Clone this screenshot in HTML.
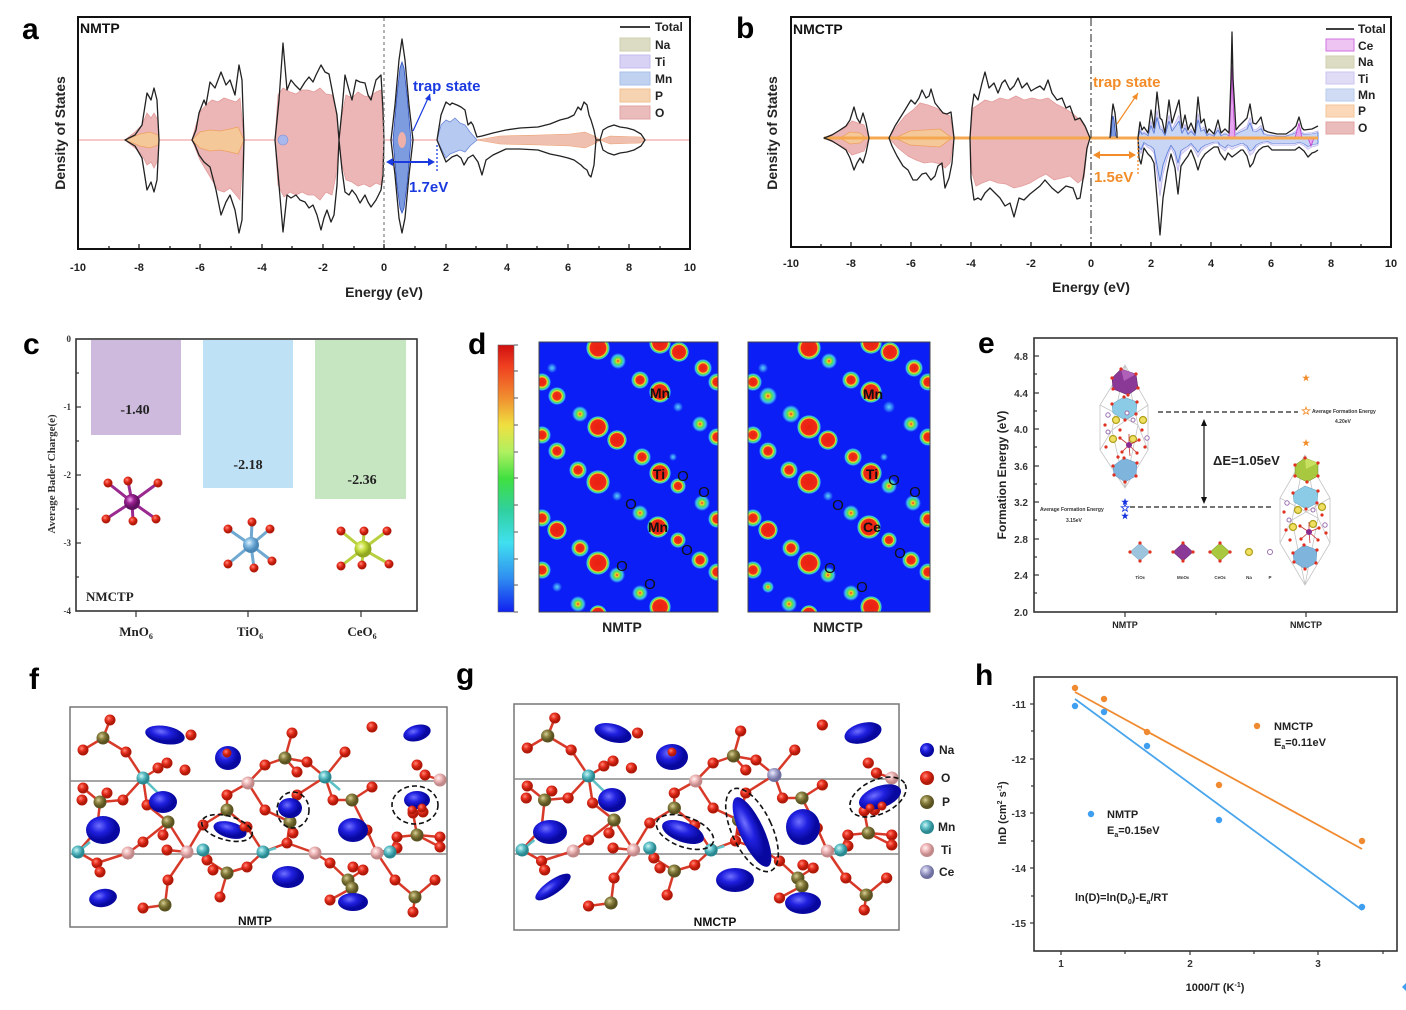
<!DOCTYPE html>
<html><head><meta charset="utf-8"><style>
html,body{margin:0;padding:0;background:#fff;}
svg{display:block;}
text{font-family:"Liberation Sans",Arial,sans-serif;}
.b{font-weight:bold;}
.s,.s text,text.s{font-family:"Liberation Serif","Times New Roman",serif;font-weight:bold;}
</style></head><body>
<svg width="1406" height="1010" viewBox="0 0 1406 1010" xmlns="http://www.w3.org/2000/svg">
<defs>
<radialGradient id="big"><stop offset="0" stop-color="#e82010"/><stop offset="0.66" stop-color="#f02818"/><stop offset="0.75" stop-color="#f0e030"/><stop offset="0.83" stop-color="#50e050"/><stop offset="0.92" stop-color="#40c0f0"/><stop offset="1" stop-color="#0a1ef5"/></radialGradient>
<radialGradient id="med"><stop offset="0" stop-color="#e82010"/><stop offset="0.45" stop-color="#f03018"/><stop offset="0.58" stop-color="#f0e030"/><stop offset="0.7" stop-color="#50e050"/><stop offset="0.85" stop-color="#40c0f0"/><stop offset="1" stop-color="#0a1ef5"/></radialGradient>
<radialGradient id="sm"><stop offset="0" stop-color="#f03020"/><stop offset="0.22" stop-color="#f0d030"/><stop offset="0.42" stop-color="#50e050"/><stop offset="0.7" stop-color="#40c0f0"/><stop offset="1" stop-color="#0a1ef5"/></radialGradient>
<radialGradient id="fa"><stop offset="0" stop-color="#60d0f8"/><stop offset="0.5" stop-color="#3080f8"/><stop offset="1" stop-color="#0a1ef5"/></radialGradient>
<linearGradient id="jet" x1="0" y1="0" x2="0" y2="1"><stop offset="0" stop-color="#d01010"/><stop offset="0.08" stop-color="#f04020"/><stop offset="0.2" stop-color="#f09030"/><stop offset="0.3" stop-color="#f0e040"/><stop offset="0.4" stop-color="#b0f060"/><stop offset="0.5" stop-color="#40e040"/><stop offset="0.62" stop-color="#30d0a0"/><stop offset="0.74" stop-color="#40e0f0"/><stop offset="0.87" stop-color="#3090f0"/><stop offset="1" stop-color="#1020f0"/></linearGradient>
<radialGradient id="gO" cx="0.38" cy="0.35"><stop offset="0" stop-color="#ff8a78"/><stop offset="0.5" stop-color="#e83020"/><stop offset="1" stop-color="#b01808"/></radialGradient>
<radialGradient id="gP" cx="0.38" cy="0.35"><stop offset="0" stop-color="#d8d098"/><stop offset="0.5" stop-color="#8a8040"/><stop offset="1" stop-color="#5a5220"/></radialGradient>
<radialGradient id="gMn" cx="0.38" cy="0.35"><stop offset="0" stop-color="#d0f6f6"/><stop offset="0.5" stop-color="#60c0c8"/><stop offset="1" stop-color="#2a8890"/></radialGradient>
<radialGradient id="gTi" cx="0.38" cy="0.35"><stop offset="0" stop-color="#fff4f4"/><stop offset="0.5" stop-color="#f0b8b8"/><stop offset="1" stop-color="#c08888"/></radialGradient>
<radialGradient id="gCe" cx="0.38" cy="0.35"><stop offset="0" stop-color="#eeeeff"/><stop offset="0.5" stop-color="#a8a8d0"/><stop offset="1" stop-color="#7070a0"/></radialGradient>
<radialGradient id="gNa" cx="0.38" cy="0.35"><stop offset="0" stop-color="#7070ff"/><stop offset="0.5" stop-color="#2020e0"/><stop offset="1" stop-color="#0808a0"/></radialGradient>
<radialGradient id="gMnc" cx="0.38" cy="0.35"><stop offset="0" stop-color="#f0a0f0"/><stop offset="0.5" stop-color="#9a2090"/><stop offset="1" stop-color="#601060"/></radialGradient>
<radialGradient id="gTic" cx="0.38" cy="0.35"><stop offset="0" stop-color="#e0f4ff"/><stop offset="0.5" stop-color="#80b8e0"/><stop offset="1" stop-color="#4a88b8"/></radialGradient>
<radialGradient id="gCec" cx="0.38" cy="0.35"><stop offset="0" stop-color="#fafad0"/><stop offset="0.5" stop-color="#c8e040"/><stop offset="1" stop-color="#90a820"/></radialGradient>
<clipPath id="cl1"><rect x="539" y="342" width="179" height="270"/></clipPath>
<clipPath id="cl2"><rect x="748" y="342" width="182" height="270"/></clipPath>
</defs>

<!-- ============ PANEL A ============ -->
<text x="22" y="39" class="b" font-size="30">a</text>
<line x1="78" y1="140" x2="690" y2="140" stroke="#f3b5b5" stroke-width="1.5"/>
<g transform="translate(0,140)">
 <path d="M125,0 L135,-8 L142,-15 L147,-27 L151,-22 L154,-27 L158,-20 L159,0 L158,20 L154,28 L151,22 L147,25 L142,15 L135,8 Z" fill="#ecb6b6" stroke="#e49a9a" stroke-width="0.8"/>
 <path d="M192,0 L196,-15 L200,-28 L206,-35 L212,-40 L218,-38 L224,-42 L230,-40 L236,-38 L240,-42 L244,0 L240,60 L236,55 L230,48 L224,52 L218,50 L212,40 L206,30 L200,20 L196,10 Z" fill="#ecb6b6" stroke="#e49a9a" stroke-width="0.8"/>
 <path d="M275,0 L278,-45 L283,-52 L290,-48 L296,-46 L302,-50 L308,-50 L314,-48 L320,-52 L326,-46 L332,-45 L336,-30 L339,0 L342,-25 L346,-45 L352,-42 L358,-48 L364,-44 L370,-43 L376,-48 L381,-50 L384,0 L381,45 L376,43 L370,47 L364,44 L358,46 L352,42 L346,40 L342,25 L339,0 L336,35 L332,55 L326,52 L320,60 L314,55 L308,55 L302,52 L296,55 L290,52 L284,57 L278,45 Z" fill="#ecb6b6" stroke="#e49a9a" stroke-width="0.8"/>
 <path d="M125,0 L140,-6 L150,-8 L158,-5 L159,0 L158,5 L150,8 L140,6 Z" fill="#f5c89a" stroke="#eea060" stroke-width="0.8"/>
 <path d="M192,0 L200,-8 L210,-10 L220,-9 L230,-11 L238,-13 L244,0 L238,14 L230,12 L220,10 L210,11 L200,8 Z" fill="#f5c89a" stroke="#eea060" stroke-width="0.8"/>
 <ellipse cx="283" cy="0" rx="5" ry="5" fill="#a8b8ec" stroke="#7a90d8" stroke-width="0.6"/>
 <path d="M393,0 L397,-45 L400,-72 L402,-78 L404,-72 L407,-45 L411,0 L407,45 L404,68 L402,73 L400,68 L397,45 Z" fill="#7d9ce0" stroke="#3050c0" stroke-width="0.8"/>
 <ellipse cx="402" cy="0" rx="4" ry="8" fill="#eeb0a8"/>
 <path d="M437,0 L441,-15 L446,-20 L450,-18 L455,-22 L460,-17 L465,-15 L470,-8 L477,0 L470,6 L465,12 L460,10 L455,12 L450,14 L446,18 L441,8 Z" fill="#b6c9f0" stroke="#6a88d8" stroke-width="0.8"/>
 <path d="M477,0 L500,-4 L540,-5 L570,-6 L585,-8 L596,-3 L600,0 L610,-4 L640,-3 L645,0 L640,3 L610,4 L600,0 L596,3 L585,8 L570,6 L540,5 L500,4 Z" fill="#efc0b0" stroke="#eea070" stroke-width="0.6"/>
 <g fill="none" stroke="#222" stroke-width="1.3" stroke-linejoin="round">
 <path d="M125,0 L135,-5 L142,-15 L147,-47 L151,-40 L154,-52 L157,-40 L159,0 L157,40 L154,52 L151,42 L147,50 L142,18 L135,6 Z"/>
 <path d="M192,0 L196,-10 L199,-27 L204,-40 L206,-35 L210,-58 L215,-52 L218,-60 L221,-68 L226,-55 L230,-60 L235,-45 L239,-75 L242,-60 L244,0 L242,80 L239,93 L235,70 L230,55 L226,62 L221,75 L216,50 L210,27 L204,22 L199,15 L195,5 Z"/>
 <path d="M275,0 L279,-40 L283,-97 L287,-50 L291,-60 L295,-55 L300,-50 L305,-58 L309,-63 L313,-58 L316,-65 L321,-75 L325,-68 L329,-66 L334,-40 L337,-25 L339,0 L342,-30 L345,-65 L349,-50 L352,-40 L356,-60 L360,-58 L365,-57 L368,-45 L371,-40 L376,-60 L381,-65 L383,-30 L384,0 L383,35 L381,50 L376,60 L371,67 L368,62 L365,55 L360,63 L356,55 L352,50 L349,55 L345,52 L342,30 L339,0 L337,45 L334,75 L331,82 L327,70 L324,78 L321,90 L317,75 L313,65 L309,68 L305,62 L300,60 L296,55 L291,58 L287,55 L283,92 L279,45 Z"/>
 <path d="M391,0 L395,-35 L399,-80 L402,-101 L405,-80 L409,-35 L413,0 L409,35 L405,78 L402,93 L399,78 L395,35 Z"/>
 <path d="M437,0 L441,-25 L446,-38 L450,-35 L452,-37 L457,-35 L461,-33 L465,-30 L468,-15 L471,-18 L473,-15 L477,-3 L482,-4 L493,-7 L506,-10 L520,-12 L538,-13 L550,-16 L560,-20 L568,-22 L574,-25 L578,-33 L581,-30 L584,-38 L587,-35 L589,-25 L591,-20 L594,-10 L596,0 L600,0 L603,-10 L608,-13 L614,-15 L620,-13 L627,-12 L634,-10 L641,-6 L645,0 L641,6 L634,10 L627,12 L620,13 L614,15 L608,13 L603,10 L600,0 L596,0 L594,25 L591,37 L589,35 L587,30 L584,28 L581,25 L574,20 L568,18 L560,16 L550,14 L538,10 L520,9 L506,9 L493,15 L486,20 L482,35 L478,22 L473,15 L468,18 L464,25 L461,18 L457,15 L452,17 L446,22 L441,10 Z"/>
 </g>
</g>
<line x1="384" y1="18" x2="384" y2="249" stroke="#888" stroke-width="1.3" stroke-dasharray="3,3"/>
<line x1="437" y1="145" x2="437" y2="172" stroke="#2040e0" stroke-width="1.3" stroke-dasharray="2,2"/>
<line x1="389" y1="162" x2="432" y2="162" stroke="#1a3ae0" stroke-width="2"/>
<path d="M386,162 L393,158 L393,166 Z M435,162 L428,158 L428,166 Z" fill="#1a3ae0"/>
<text x="409" y="192" class="b" font-size="15" fill="#1a3ae0">1.7eV</text>
<text x="413" y="91" class="b" font-size="15" fill="#1a3ae0">trap state</text>
<line x1="430" y1="94" x2="413" y2="131" stroke="#1a3ae0" stroke-width="1.2"/>
<path d="M430,94 L425,99 L431,101 Z" fill="#1a3ae0"/>
<rect x="78" y="17" width="612" height="232" fill="none" stroke="#111" stroke-width="2"/>
<g stroke="#111" stroke-width="1.2">
<line x1="78" y1="249" x2="78" y2="244"/><line x1="109" y1="249" x2="109" y2="246"/><line x1="139" y1="249" x2="139" y2="244"/><line x1="170" y1="249" x2="170" y2="246"/><line x1="200" y1="249" x2="200" y2="244"/><line x1="231" y1="249" x2="231" y2="246"/><line x1="262" y1="249" x2="262" y2="244"/><line x1="292" y1="249" x2="292" y2="246"/><line x1="323" y1="249" x2="323" y2="244"/><line x1="354" y1="249" x2="354" y2="246"/><line x1="384" y1="249" x2="384" y2="244"/><line x1="415" y1="249" x2="415" y2="246"/><line x1="446" y1="249" x2="446" y2="244"/><line x1="476" y1="249" x2="476" y2="246"/><line x1="507" y1="249" x2="507" y2="244"/><line x1="537" y1="249" x2="537" y2="246"/><line x1="568" y1="249" x2="568" y2="244"/><line x1="599" y1="249" x2="599" y2="246"/><line x1="629" y1="249" x2="629" y2="244"/><line x1="660" y1="249" x2="660" y2="246"/>
</g>
<g class="b" font-size="11" text-anchor="middle" fill="#222">
<text x="78" y="271">-10</text><text x="139" y="271">-8</text><text x="200" y="271">-6</text><text x="262" y="271">-4</text><text x="323" y="271">-2</text><text x="384" y="271">0</text><text x="446" y="271">2</text><text x="507" y="271">4</text><text x="568" y="271">6</text><text x="629" y="271">8</text><text x="690" y="271">10</text>
</g>
<text x="384" y="297" class="b" font-size="14" text-anchor="middle" fill="#222">Energy (eV)</text>
<text transform="translate(65,133) rotate(-90)" class="b" font-size="14" text-anchor="middle" fill="#222">Density of States</text>
<text x="80" y="33" class="b" font-size="14" fill="#111">NMTP</text>
<g class="b" font-size="12" fill="#222">
<line x1="620" y1="27" x2="650" y2="27" stroke="#222" stroke-width="1.8"/><text x="655" y="31">Total</text>
<rect x="620" y="38" width="30" height="13" fill="#dcdcc4" stroke="#cfcfb0"/><text x="655" y="49">Na</text>
<rect x="620" y="55" width="30" height="13" fill="#d8d2f4" stroke="#c4bcee"/><text x="655" y="66">Ti</text>
<rect x="620" y="72" width="30" height="13" fill="#c0d2f0" stroke="#a8c0ea"/><text x="655" y="83">Mn</text>
<rect x="620" y="89" width="30" height="13" fill="#f6d4b2" stroke="#f0c090"/><text x="655" y="100">P</text>
<rect x="620" y="106" width="30" height="13" fill="#ebbcbc" stroke="#e0a4a4"/><text x="655" y="117">O</text>
</g>

<!-- ============ PANEL B ============ -->
<text x="736" y="38" class="b" font-size="30">b</text>
<g transform="translate(0,138)">
 <path d="M824,0 L835,-5 L845,-10 L852,-17 L858,-15 L864,-13 L869,0 L864,13 L858,15 L852,17 L845,10 L835,5 Z" fill="#ecb6b6" stroke="#e49a9a" stroke-width="0.8"/>
 <path d="M889,0 L897,-12 L905,-22 L913,-28 L920,-35 L928,-33 L936,-30 L944,-25 L950,-22 L954,0 L950,25 L945,30 L940,26 L932,24 L924,25 L916,22 L908,18 L898,10 Z" fill="#ecb6b6" stroke="#e49a9a" stroke-width="0.8"/>
 <path d="M970,0 L973,-30 L978,-33 L985,-38 L992,-36 L1000,-40 L1008,-38 L1016,-42 L1024,-38 L1032,-40 L1040,-38 L1048,-40 L1056,-34 L1064,-30 L1072,-25 L1080,-18 L1086,-10 L1090,0 L1087,12 L1084,40 L1078,45 L1070,38 L1062,40 L1054,42 L1046,36 L1038,40 L1030,45 L1022,48 L1014,50 L1006,46 L998,45 L990,42 L982,45 L976,48 L972,35 Z" fill="#ecb6b6" stroke="#e49a9a" stroke-width="0.8"/>
 <path d="M840,0 L850,-6 L860,-5 L866,0 L860,5 L850,6 Z M895,0 L910,-7 L925,-8 L940,-9 L952,0 L940,9 L925,8 L910,7 Z" fill="#f5c89a" stroke="#eea060" stroke-width="0.8"/>
 <g transform="scale(1,0.6)"><path d="M1138,0 L1140,-16 L1142,-8 L1144,-11 L1148,-5 L1151,-28 L1154,-10 L1157,-46 L1160,-20 L1162,-18 L1165,-5 L1169,-38 L1172,-15 L1176,-28 L1179,-38 L1182,-10 L1185,-23 L1188,-8 L1191,-15 L1195,-5 L1198,-41 L1201,-15 L1204,-19 L1207,-5 L1209,-9 L1214,-4 L1218,-18 L1221,-5 L1225,-9 L1229,-5 L1231,-20 L1232,-30 L1233,-20 L1236,-8 L1239,-12 L1243,-16 L1247,-20 L1250,-34 L1253,-15 L1256,-14 L1259,-18 L1261,-21 L1264,-8 L1268,-6 L1277,-4 L1286,-4 L1292,-8 L1296,-12 L1299,-21 L1302,-10 L1304,-8 L1312,-9 L1318,-12 L1318,12 L1315,14 L1312,15 L1308,19 L1304,13 L1299,9 L1295,12 L1290,12 L1285,12 L1281,12 L1276,12 L1272,12 L1268,8 L1263,9 L1259,12 L1256,16 L1253,25 L1250,29 L1247,18 L1243,12 L1241,12 L1236,16 L1232,19 L1228,15 L1225,22 L1220,15 L1218,9 L1214,9 L1210,12 L1205,16 L1201,22 L1198,32 L1195,22 L1191,12 L1188,18 L1185,22 L1181,28 L1178,56 L1175,30 L1171,16 L1169,25 L1167,35 L1163,60 L1160,97 L1157,60 L1154,25 L1151,19 L1148,16 L1144,10 L1141,26 L1139,20 L1138,0 Z" fill="#e4e0f8" stroke="#b8b0ec" stroke-width="0.8"/></g>
 <g transform="scale(1,0.45)"><path d="M1138,0 L1140,-16 L1142,-8 L1144,-11 L1148,-5 L1151,-28 L1154,-10 L1157,-46 L1160,-20 L1162,-18 L1165,-5 L1169,-38 L1172,-15 L1176,-28 L1179,-38 L1182,-10 L1185,-23 L1188,-8 L1191,-15 L1195,-5 L1198,-41 L1201,-15 L1204,-19 L1207,-5 L1209,-9 L1214,-4 L1218,-18 L1221,-5 L1225,-9 L1229,-5 L1236,-8 L1239,-12 L1243,-16 L1247,-20 L1250,-34 L1253,-15 L1256,-14 L1259,-18 L1261,-21 L1264,-8 L1268,-6 L1277,-4 L1286,-4 L1292,-8 L1296,-12 L1299,-10 L1302,-10 L1304,-8 L1312,-9 L1318,-12 L1318,12 L1315,14 L1312,15 L1308,19 L1304,13 L1299,9 L1295,12 L1290,12 L1285,12 L1281,12 L1276,12 L1272,12 L1268,8 L1263,9 L1259,12 L1256,16 L1253,25 L1250,29 L1247,18 L1243,12 L1241,12 L1236,16 L1232,19 L1228,15 L1225,22 L1220,15 L1218,9 L1214,9 L1210,12 L1205,16 L1201,22 L1198,32 L1195,22 L1191,12 L1188,18 L1185,22 L1181,28 L1178,56 L1175,30 L1171,16 L1169,25 L1167,35 L1163,60 L1160,97 L1157,60 L1154,25 L1151,19 L1148,16 L1144,10 L1141,26 L1139,20 L1138,0 Z" fill="#c2d2f4" fill-opacity="0.8" stroke="#5d80d8" stroke-width="1"/></g>
 <path d="M1229,0 L1231,-40 L1232,-71 L1233,-40 L1235,0 Z M1295,0 L1299,-15 L1302,0 Z M1308,0 L1311,8 L1314,0 Z" fill="#e6a6f0" stroke="#c040d0" stroke-width="0.8"/>
 <path d="M1111,0 L1112,-18 L1113,-22 L1114,-18 L1116,0 Z" fill="#7d9ce0" stroke="#3050c0" stroke-width="0.8"/>
 <line x1="824" y1="0" x2="1318" y2="0" stroke="#f5a850" stroke-width="3"/>
 <g fill="none" stroke="#222" stroke-width="1.3" stroke-linejoin="round">
 <path d="M824,0 L832,-3 L840,-8 L846,-12 L850,-18 L854,-31 L857,-20 L860,-15 L863,-25 L866,-15 L869,0 L866,15 L863,25 L860,20 L857,25 L854,32 L850,20 L846,12 L840,8 L832,3 Z"/>
 <path d="M889,0 L895,-12 L900,-20 L905,-28 L911,-38 L915,-34 L919,-40 L922,-48 L926,-40 L929,-42 L931,-49 L935,-35 L939,-30 L943,-25 L947,-24 L951,-26 L954,0 L952,25 L949,40 L945,50 L942,25 L938,28 L935,38 L931,42 L926,35 L922,36 L917,42 L913,42 L908,32 L903,28 L897,18 L892,8 Z"/>
 <path d="M970,0 L972,-30 L974,-44 L978,-38 L982,-55 L985,-66 L989,-50 L994,-55 L998,-45 L1002,-55 L1005,-58 L1010,-48 L1014,-52 L1018,-60 L1022,-50 L1027,-55 L1031,-47 L1036,-50 L1040,-52 L1044,-48 L1048,-58 L1052,-45 L1057,-38 L1062,-40 L1066,-30 L1070,-32 L1075,-18 L1080,-20 L1085,-12 L1090,0 L1087,10 L1084,35 L1080,60 L1077,61 L1073,50 L1066,48 L1058,55 L1052,50 L1045,42 L1040,48 L1035,52 L1030,56 L1024,62 L1019,60 L1014,79 L1010,65 L1005,68 L1000,60 L995,55 L990,50 L985,55 L981,62 L978,60 L974,62 L971,40 Z"/>
 <path d="M1110,0 L1112,-25 L1113,-34 L1115,-25 L1117,-5 L1117,0"/>
 <path d="M1138,0 L1140,-16 L1142,-8 L1144,-11 L1148,-5 L1151,-28 L1154,-10 L1157,-46 L1160,-20 L1162,-18 L1165,-5 L1169,-38 L1172,-15 L1176,-28 L1179,-38 L1182,-10 L1185,-23 L1188,-8 L1191,-15 L1195,-5 L1198,-41 L1201,-15 L1204,-19 L1207,-5 L1209,-9 L1214,-4 L1218,-18 L1221,-5 L1225,-9 L1229,-5 L1231,-60 L1232,-106 L1233,-60 L1236,-8 L1239,-12 L1243,-16 L1247,-20 L1250,-34 L1253,-15 L1256,-14 L1259,-18 L1261,-21 L1264,-8 L1268,-6 L1277,-4 L1286,-4 L1292,-8 L1296,-12 L1299,-21 L1302,-10 L1304,-8 L1312,-9 L1318,-12 M1318,12 L1315,14 L1312,15 L1308,19 L1304,13 L1299,9 L1295,12 L1290,12 L1285,12 L1281,12 L1276,12 L1272,12 L1268,8 L1263,9 L1259,12 L1256,16 L1253,25 L1250,29 L1247,18 L1243,12 L1241,12 L1236,16 L1232,19 L1228,15 L1225,22 L1220,15 L1218,9 L1214,9 L1210,12 L1205,16 L1201,22 L1198,32 L1195,22 L1191,12 L1188,18 L1185,22 L1181,28 L1178,56 L1175,30 L1171,16 L1169,25 L1167,35 L1163,60 L1160,97 L1157,60 L1154,25 L1151,19 L1148,16 L1144,10 L1141,26 L1139,20 L1138,0"/>
 </g>
</g>
<line x1="1091" y1="18" x2="1091" y2="247" stroke="#555" stroke-width="1.3" stroke-dasharray="8,3,2,3"/>
<line x1="1138" y1="140" x2="1138" y2="176" stroke="#f28c28" stroke-width="1.3" stroke-dasharray="2,2"/>
<line x1="1096" y1="155" x2="1133" y2="155" stroke="#f28c28" stroke-width="2"/>
<path d="M1093,155 L1100,151 L1100,159 Z M1136,155 L1129,151 L1129,159 Z" fill="#f28c28"/>
<text x="1094" y="182" class="b" font-size="15" fill="#f28c28">1.5eV</text>
<text x="1093" y="87" class="b" font-size="15" fill="#f28c28">trap state</text>
<line x1="1138" y1="93" x2="1117" y2="124" stroke="#f28c28" stroke-width="1.2"/>
<path d="M1138,93 L1132,97 L1137,100 Z" fill="#f28c28"/>
<rect x="791" y="17" width="600" height="230" fill="none" stroke="#111" stroke-width="2"/>
<g stroke="#111" stroke-width="1.2">
<line x1="791" y1="247" x2="791" y2="242"/><line x1="821" y1="247" x2="821" y2="244"/><line x1="851" y1="247" x2="851" y2="242"/><line x1="881" y1="247" x2="881" y2="244"/><line x1="911" y1="247" x2="911" y2="242"/><line x1="941" y1="247" x2="941" y2="244"/><line x1="971" y1="247" x2="971" y2="242"/><line x1="1001" y1="247" x2="1001" y2="244"/><line x1="1031" y1="247" x2="1031" y2="242"/><line x1="1061" y1="247" x2="1061" y2="244"/><line x1="1091" y1="247" x2="1091" y2="242"/><line x1="1121" y1="247" x2="1121" y2="244"/><line x1="1151" y1="247" x2="1151" y2="242"/><line x1="1181" y1="247" x2="1181" y2="244"/><line x1="1211" y1="247" x2="1211" y2="242"/><line x1="1241" y1="247" x2="1241" y2="244"/><line x1="1271" y1="247" x2="1271" y2="242"/><line x1="1301" y1="247" x2="1301" y2="244"/><line x1="1331" y1="247" x2="1331" y2="242"/><line x1="1361" y1="247" x2="1361" y2="244"/>
</g>
<g class="b" font-size="11" text-anchor="middle" fill="#222">
<text x="791" y="267">-10</text><text x="851" y="267">-8</text><text x="911" y="267">-6</text><text x="971" y="267">-4</text><text x="1031" y="267">-2</text><text x="1091" y="267">0</text><text x="1151" y="267">2</text><text x="1211" y="267">4</text><text x="1271" y="267">6</text><text x="1331" y="267">8</text><text x="1391" y="267">10</text>
</g>
<text x="1091" y="292" class="b" font-size="14" text-anchor="middle" fill="#222">Energy (eV)</text>
<text transform="translate(777,133) rotate(-90)" class="b" font-size="14" text-anchor="middle" fill="#222">Density of States</text>
<text x="793" y="34" class="b" font-size="14" fill="#111">NMCTP</text>
<g class="b" font-size="12" fill="#222">
<line x1="1326" y1="29" x2="1354" y2="29" stroke="#222" stroke-width="1.8"/><text x="1358" y="33">Total</text>
<rect x="1326" y="39" width="28" height="12" fill="#eec4f2" stroke="#d070e0"/><text x="1358" y="50">Ce</text>
<rect x="1326" y="56" width="28" height="12" fill="#dcdcc4" stroke="#cfcfb0"/><text x="1358" y="66">Na</text>
<rect x="1326" y="72" width="28" height="12" fill="#e0dcf6" stroke="#ccc6f0"/><text x="1358" y="83">Ti</text>
<rect x="1326" y="89" width="28" height="12" fill="#cfdcf4" stroke="#b8cbee"/><text x="1358" y="99">Mn</text>
<rect x="1326" y="105" width="28" height="12" fill="#fad8b8" stroke="#f4c498"/><text x="1358" y="115">P</text>
<rect x="1326" y="122" width="28" height="12" fill="#ebbcbc" stroke="#e0a4a4"/><text x="1358" y="132">O</text>
</g>

<!-- ============ PANEL C ============ -->
<text x="23" y="354" class="b" font-size="30">c</text>
<rect x="91" y="340" width="90" height="95" fill="#cdbadd"/>
<rect x="203" y="340" width="90" height="148" fill="#bfe1f6"/>
<rect x="315" y="340" width="91" height="159" fill="#c6e6c2"/>
<g class="s" font-size="14" text-anchor="middle" fill="#222">
<text x="135" y="414">-1.40</text><text x="248" y="469">-2.18</text><text x="362" y="484">-2.36</text>
</g>
<rect x="76" y="339" width="341" height="272" fill="none" stroke="#333" stroke-width="1.6"/>
<g stroke="#333" stroke-width="1.2">
<line x1="76" y1="407" x2="81" y2="407"/><line x1="76" y1="475" x2="81" y2="475"/><line x1="76" y1="543" x2="81" y2="543"/>
<line x1="76" y1="373" x2="79" y2="373"/><line x1="76" y1="441" x2="79" y2="441"/><line x1="76" y1="509" x2="79" y2="509"/><line x1="76" y1="577" x2="79" y2="577"/>
<line x1="136" y1="611" x2="136" y2="617"/><line x1="248" y1="611" x2="248" y2="617"/><line x1="361" y1="611" x2="361" y2="617"/>
</g>
<g class="s" font-size="9" text-anchor="end" fill="#333">
<text x="71" y="342">0</text><text x="71" y="410">-1</text><text x="71" y="478">-2</text><text x="71" y="546">-3</text><text x="71" y="614">-4</text>
</g>
<text transform="translate(55,474) rotate(-90)" class="s" font-size="11" text-anchor="middle" fill="#333">Average Bader Charge(e)</text>
<text x="86" y="601" class="s" font-size="13" fill="#222">NMCTP</text>
<g class="s" font-size="13" text-anchor="middle" fill="#222">
<text x="136" y="636">MnO<tspan font-size="8" dy="3">6</tspan></text>
<text x="250" y="636">TiO<tspan font-size="8" dy="3">6</tspan></text>
<text x="362" y="636">CeO<tspan font-size="8" dy="3">6</tspan></text>
</g>
<g stroke-width="3">
<g stroke="#9a2a90"><line x1="132" y1="502" x2="108" y2="483"/><line x1="132" y1="502" x2="128" y2="481"/><line x1="132" y1="502" x2="158" y2="483"/><line x1="132" y1="502" x2="106" y2="519"/><line x1="132" y1="502" x2="133" y2="521"/><line x1="132" y1="502" x2="156" y2="519"/></g>
<g stroke="#6fa8d0"><line x1="251" y1="545" x2="228" y2="529"/><line x1="251" y1="545" x2="252" y2="522"/><line x1="251" y1="545" x2="270" y2="529"/><line x1="251" y1="545" x2="228" y2="564"/><line x1="251" y1="545" x2="254" y2="568"/><line x1="251" y1="545" x2="272" y2="561"/></g>
<g stroke="#b8d040"><line x1="363" y1="549" x2="341" y2="531"/><line x1="363" y1="549" x2="364" y2="531"/><line x1="363" y1="549" x2="387" y2="531"/><line x1="363" y1="549" x2="341" y2="566"/><line x1="363" y1="549" x2="362" y2="565"/><line x1="363" y1="549" x2="389" y2="564"/></g>
</g>
<g fill="url(#gO)">
<circle cx="108" cy="483" r="4.5"/><circle cx="128" cy="481" r="4.5"/><circle cx="158" cy="483" r="4.5"/><circle cx="106" cy="519" r="4.5"/><circle cx="133" cy="521" r="4.5"/><circle cx="156" cy="519" r="4.5"/>
<circle cx="228" cy="529" r="4.5"/><circle cx="252" cy="522" r="4.5"/><circle cx="270" cy="529" r="4.5"/><circle cx="228" cy="564" r="4.5"/><circle cx="254" cy="568" r="4.5"/><circle cx="272" cy="561" r="4.5"/>
<circle cx="341" cy="531" r="4.5"/><circle cx="364" cy="531" r="4.5"/><circle cx="387" cy="531" r="4.5"/><circle cx="341" cy="566" r="4.5"/><circle cx="362" cy="565" r="4.5"/><circle cx="389" cy="564" r="4.5"/>
</g>
<circle cx="132" cy="502" r="8" fill="url(#gMnc)"/>
<circle cx="251" cy="545" r="8" fill="url(#gTic)"/>
<circle cx="363" cy="549" r="8.5" fill="url(#gCec)"/>

<!-- ============ PANEL D ============ -->
<text x="468" y="354" class="b" font-size="30">d</text>
<rect x="498" y="345" width="16" height="267" fill="url(#jet)" stroke="#666" stroke-width="0.6"/>
<g stroke="#555" stroke-width="1">
<line x1="514" y1="371" x2="518" y2="371"/><line x1="514" y1="398" x2="518" y2="398"/><line x1="514" y1="425" x2="518" y2="425"/><line x1="514" y1="452" x2="518" y2="452"/><line x1="514" y1="478" x2="518" y2="478"/><line x1="514" y1="505" x2="518" y2="505"/><line x1="514" y1="532" x2="518" y2="532"/><line x1="514" y1="559" x2="518" y2="559"/><line x1="514" y1="585" x2="518" y2="585"/><line x1="514" y1="345" x2="518" y2="345"/><line x1="514" y1="612" x2="518" y2="612"/>
</g>
<g clip-path="url(#cl1)">
<rect x="539" y="342" width="179" height="270" fill="#0a1ef5"/>
<circle cx="598" cy="348" r="12" fill="url(#big)"/><circle cx="660" cy="343" r="11" fill="url(#big)"/><circle cx="679" cy="352" r="10" fill="url(#big)"/><circle cx="618" cy="361" r="8" fill="url(#sm)"/><circle cx="703" cy="368" r="9" fill="url(#med)"/><circle cx="552" cy="368" r="5" fill="url(#fa)"/><circle cx="542" cy="382" r="9" fill="url(#med)"/><circle cx="640" cy="380" r="9" fill="url(#med)"/><circle cx="717" cy="382" r="9" fill="url(#med)"/><circle cx="660" cy="392" r="11" fill="url(#big)"/><circle cx="557" cy="396" r="9" fill="url(#med)"/><circle cx="678" cy="407" r="5" fill="url(#fa)"/><circle cx="580" cy="414" r="8" fill="url(#sm)"/><circle cx="598" cy="427" r="11" fill="url(#big)"/><circle cx="617" cy="440" r="10" fill="url(#big)"/><circle cx="542" cy="435" r="9" fill="url(#med)"/><circle cx="700" cy="424" r="8" fill="url(#sm)"/><circle cx="717" cy="437" r="9" fill="url(#med)"/><circle cx="557" cy="451" r="9" fill="url(#med)"/><circle cx="642" cy="457" r="9" fill="url(#med)"/><circle cx="673" cy="457" r="4" fill="url(#fa)"/><circle cx="578" cy="470" r="9" fill="url(#med)"/><circle cx="598" cy="482" r="12" fill="url(#big)"/><circle cx="660" cy="473" r="11" fill="url(#big)"/><circle cx="678" cy="486" r="8" fill="url(#med)"/><circle cx="617" cy="496" r="5" fill="url(#fa)"/><circle cx="702" cy="503" r="8" fill="url(#sm)"/><circle cx="640" cy="513" r="8" fill="url(#sm)"/><circle cx="542" cy="518" r="9" fill="url(#med)"/><circle cx="557" cy="530" r="10" fill="url(#big)"/><circle cx="658" cy="527" r="11" fill="url(#big)"/><circle cx="678" cy="540" r="8" fill="url(#med)"/><circle cx="717" cy="519" r="9" fill="url(#med)"/><circle cx="580" cy="548" r="9" fill="url(#med)"/><circle cx="598" cy="563" r="12" fill="url(#big)"/><circle cx="617" cy="575" r="8" fill="url(#sm)"/><circle cx="700" cy="560" r="9" fill="url(#med)"/><circle cx="542" cy="570" r="9" fill="url(#med)"/><circle cx="717" cy="572" r="9" fill="url(#med)"/><circle cx="557" cy="587" r="5" fill="url(#fa)"/><circle cx="640" cy="593" r="8" fill="url(#sm)"/><circle cx="578" cy="604" r="8" fill="url(#sm)"/><circle cx="660" cy="607" r="11" fill="url(#big)"/><circle cx="598" cy="614" r="9" fill="url(#big)"/>
</g>
<g clip-path="url(#cl2)">
<rect x="748" y="342" width="182" height="270" fill="#0a1ef5"/>
<g transform="translate(211,0)">
<circle cx="598" cy="348" r="12" fill="url(#big)"/><circle cx="660" cy="343" r="11" fill="url(#big)"/><circle cx="679" cy="352" r="10" fill="url(#big)"/><circle cx="618" cy="361" r="8" fill="url(#sm)"/><circle cx="703" cy="368" r="9" fill="url(#med)"/><circle cx="552" cy="368" r="5" fill="url(#fa)"/><circle cx="542" cy="382" r="9" fill="url(#med)"/><circle cx="640" cy="380" r="9" fill="url(#med)"/><circle cx="717" cy="382" r="9" fill="url(#med)"/><circle cx="660" cy="392" r="11" fill="url(#big)"/><circle cx="557" cy="396" r="9" fill="url(#sm)"/><circle cx="678" cy="407" r="6" fill="url(#fa)"/><circle cx="580" cy="414" r="9" fill="url(#sm)"/><circle cx="598" cy="427" r="12" fill="url(#big)"/><circle cx="617" cy="440" r="10" fill="url(#big)"/><circle cx="542" cy="435" r="9" fill="url(#med)"/><circle cx="700" cy="424" r="8" fill="url(#sm)"/><circle cx="717" cy="437" r="9" fill="url(#med)"/><circle cx="557" cy="451" r="9" fill="url(#med)"/><circle cx="642" cy="457" r="9" fill="url(#med)"/><circle cx="673" cy="457" r="4" fill="url(#fa)"/><circle cx="578" cy="470" r="9" fill="url(#med)"/><circle cx="598" cy="482" r="12" fill="url(#big)"/><circle cx="660" cy="473" r="11" fill="url(#big)"/><circle cx="678" cy="486" r="8" fill="url(#sm)"/><circle cx="617" cy="496" r="5" fill="url(#fa)"/><circle cx="702" cy="503" r="8" fill="url(#sm)"/><circle cx="640" cy="513" r="8" fill="url(#sm)"/><circle cx="542" cy="518" r="9" fill="url(#med)"/><circle cx="557" cy="530" r="10" fill="url(#big)"/><circle cx="658" cy="527" r="12" fill="url(#big)"/><circle cx="678" cy="540" r="8" fill="url(#med)"/><circle cx="717" cy="519" r="9" fill="url(#med)"/><circle cx="580" cy="548" r="9" fill="url(#med)"/><circle cx="598" cy="563" r="12" fill="url(#big)"/><circle cx="617" cy="575" r="8" fill="url(#sm)"/><circle cx="700" cy="560" r="9" fill="url(#med)"/><circle cx="542" cy="570" r="9" fill="url(#med)"/><circle cx="717" cy="572" r="9" fill="url(#med)"/><circle cx="557" cy="587" r="6" fill="url(#sm)"/><circle cx="640" cy="593" r="8" fill="url(#sm)"/><circle cx="578" cy="604" r="8" fill="url(#sm)"/><circle cx="660" cy="607" r="11" fill="url(#big)"/><circle cx="598" cy="614" r="9" fill="url(#big)"/>
</g>
</g>
<rect x="539" y="342" width="179" height="270" fill="none" stroke="#444" stroke-width="1"/>
<rect x="748" y="342" width="182" height="270" fill="none" stroke="#444" stroke-width="1"/>
<g class="b" font-size="14" fill="#111" text-anchor="middle">
<text x="660" y="398">Mn</text><text x="659" y="479">Ti</text><text x="658" y="532">Mn</text>
<text x="873" y="399">Mn</text><text x="872" y="479">Ti</text><text x="872" y="532">Ce</text>
</g>
<g font-size="15" fill="#111" text-anchor="middle">
<text x="683" y="481">O</text><text x="704" y="497">O</text><text x="631" y="509">O</text><text x="687" y="555">O</text><text x="622" y="571">O</text><text x="650" y="589">O</text>
<text x="894" y="485">O</text><text x="915" y="497">O</text><text x="838" y="510">O</text><text x="900" y="558">O</text><text x="830" y="573">O</text><text x="862" y="592">O</text>
</g>
<text x="622" y="632" class="b" font-size="14" text-anchor="middle" fill="#222">NMTP</text>
<text x="838" y="632" class="b" font-size="14" text-anchor="middle" fill="#222">NMCTP</text>

<!-- ============ PANEL E ============ -->
<text x="978" y="353" class="b" font-size="30">e</text>
<rect x="1034" y="338" width="363" height="274" fill="none" stroke="#333" stroke-width="1.6"/>
<g stroke="#333" stroke-width="1.2">
<line x1="1034" y1="356" x2="1039" y2="356"/><line x1="1034" y1="393" x2="1039" y2="393"/><line x1="1034" y1="429" x2="1039" y2="429"/><line x1="1034" y1="466" x2="1039" y2="466"/><line x1="1034" y1="502" x2="1039" y2="502"/><line x1="1034" y1="539" x2="1039" y2="539"/><line x1="1034" y1="575" x2="1039" y2="575"/>
<line x1="1034" y1="374" x2="1037" y2="374"/><line x1="1034" y1="411" x2="1037" y2="411"/><line x1="1034" y1="447" x2="1037" y2="447"/><line x1="1034" y1="484" x2="1037" y2="484"/><line x1="1034" y1="520" x2="1037" y2="520"/><line x1="1034" y1="557" x2="1037" y2="557"/><line x1="1034" y1="593" x2="1037" y2="593"/>
<line x1="1125" y1="612" x2="1125" y2="617"/><line x1="1306" y1="612" x2="1306" y2="617"/><line x1="1216" y1="612" x2="1216" y2="615"/>
</g>
<g class="b" font-size="10" text-anchor="end" fill="#333">
<text x="1028" y="360">4.8</text><text x="1028" y="397">4.4</text><text x="1028" y="433">4.0</text><text x="1028" y="470">3.6</text><text x="1028" y="506">3.2</text><text x="1028" y="543">2.8</text><text x="1028" y="579">2.4</text><text x="1028" y="616">2.0</text>
</g>
<text transform="translate(1006,475) rotate(-90)" class="b" font-size="12" text-anchor="middle" fill="#222">Formation Energy (eV)</text>
<text x="1125" y="628" class="b" font-size="9" text-anchor="middle" fill="#222">NMTP</text>
<text x="1306" y="628" class="b" font-size="9" text-anchor="middle" fill="#222">NMCTP</text>
<line x1="1158" y1="412" x2="1298" y2="412" stroke="#222" stroke-width="1.2" stroke-dasharray="5,3"/>
<line x1="1130" y1="507" x2="1273" y2="507" stroke="#222" stroke-width="1.2" stroke-dasharray="5,3"/>
<line x1="1204" y1="424" x2="1204" y2="499" stroke="#111" stroke-width="1.2"/>
<path d="M1204,419 L1201,426 L1207,426 Z M1204,504 L1201,497 L1207,497 Z" fill="#111"/>
<text x="1213" y="465" class="b" font-size="13" fill="#222">ΔE=1.05eV</text>
<g fill="#f28c28">
<path transform="translate(1306,378)" d="M0,-4 L0.94,-1.3 L3.8,-1.24 L1.5,0.5 L2.35,3.24 L0,1.6 L-2.35,3.24 L-1.5,0.5 L-3.8,-1.24 L-0.94,-1.3 Z"/>
<path transform="translate(1306,443)" d="M0,-4 L0.94,-1.3 L3.8,-1.24 L1.5,0.5 L2.35,3.24 L0,1.6 L-2.35,3.24 L-1.5,0.5 L-3.8,-1.24 L-0.94,-1.3 Z"/>
</g>
<path transform="translate(1306,411)" d="M0,-4 L0.94,-1.3 L3.8,-1.24 L1.5,0.5 L2.35,3.24 L0,1.6 L-2.35,3.24 L-1.5,0.5 L-3.8,-1.24 L-0.94,-1.3 Z" fill="#fff" stroke="#f28c28" stroke-width="0.8"/>
<g fill="#1530e0">
<path transform="translate(1125,502)" d="M0,-4 L0.94,-1.3 L3.8,-1.24 L1.5,0.5 L2.35,3.24 L0,1.6 L-2.35,3.24 L-1.5,0.5 L-3.8,-1.24 L-0.94,-1.3 Z"/>
<path transform="translate(1125,516)" d="M0,-4 L0.94,-1.3 L3.8,-1.24 L1.5,0.5 L2.35,3.24 L0,1.6 L-2.35,3.24 L-1.5,0.5 L-3.8,-1.24 L-0.94,-1.3 Z"/>
</g>
<path transform="translate(1125,508)" d="M0,-4 L0.94,-1.3 L3.8,-1.24 L1.5,0.5 L2.35,3.24 L0,1.6 L-2.35,3.24 L-1.5,0.5 L-3.8,-1.24 L-0.94,-1.3 Z" fill="#fff" stroke="#1530e0" stroke-width="0.8"/>
<g font-size="5" fill="#333" class="b">
<text x="1312" y="413">Average Formation Energy</text><text x="1335" y="423">4.20eV</text>
<text x="1040" y="511">Average Formation Energy</text><text x="1066" y="522">3.15eV</text>
</g>
<!-- NMTP crystal -->
<g fill="none" stroke="#c4c4c4" stroke-width="0.8">
<path d="M1125,365 L1100,405 L1100,450 L1125,488 L1148,450 L1148,405 Z M1125,365 L1112,430 L1125,488 M1125,365 L1138,425 L1125,488 M1100,405 L1138,425 L1148,450 M1148,405 L1112,430 L1100,450"/>
</g>
<polygon points="1112,378 1121,369 1136,374 1138,388 1128,395 1113,389" fill="#8a3a96" stroke="#5a1a60" stroke-width="0.5"/>
<polygon points="1121,369 1136,374 1124,381" fill="#b060b8"/>
<polygon points="1112,404 1124,397 1137,402 1136,414 1125,420 1113,413" fill="#8ccbe6" stroke="#5a9ac0" stroke-width="0.5"/>
<polygon points="1113,466 1124,458 1137,463 1136,476 1125,482 1114,475" fill="#7fb4dc" stroke="#5a90c0" stroke-width="0.5"/>
<g fill="#f0e060" stroke="#b0a020" stroke-width="1.2"><circle cx="1116" cy="420" r="3.5"/><circle cx="1143" cy="420" r="3.5"/><circle cx="1113" cy="439" r="3.5"/><circle cx="1133" cy="439" r="3.5"/></g>
<g fill="#fff" stroke="#9a70b0" stroke-width="1"><circle cx="1108" cy="415" r="2.2"/><circle cx="1133" cy="420" r="2"/><circle cx="1108" cy="432" r="2"/><circle cx="1147" cy="438" r="2.2"/><circle cx="1127" cy="413" r="2"/></g>
<g stroke="#c03030" stroke-width="0.8"><line x1="1129" y1="445" x2="1120" y2="438"/><line x1="1129" y1="445" x2="1139" y2="440"/><line x1="1129" y1="445" x2="1122" y2="452"/><line x1="1129" y1="445" x2="1137" y2="453"/><line x1="1129" y1="445" x2="1129" y2="434"/><line x1="1129" y1="445" x2="1130" y2="456"/></g>
<circle cx="1129" cy="445" r="3" fill="#8a2a90"/>
<g fill="#e03020"><circle cx="1112" cy="378" r="1.6"/><circle cx="1121" cy="369" r="1.6"/><circle cx="1136" cy="374" r="1.6"/><circle cx="1138" cy="388" r="1.6"/><circle cx="1128" cy="395" r="1.6"/><circle cx="1113" cy="389" r="1.6"/><circle cx="1112" cy="404" r="1.6"/><circle cx="1124" cy="397" r="1.6"/><circle cx="1137" cy="402" r="1.6"/><circle cx="1136" cy="414" r="1.6"/><circle cx="1125" cy="420" r="1.6"/><circle cx="1113" cy="466" r="1.6"/><circle cx="1124" cy="458" r="1.6"/><circle cx="1137" cy="463" r="1.6"/><circle cx="1136" cy="476" r="1.6"/><circle cx="1125" cy="482" r="1.6"/><circle cx="1114" cy="475" r="1.6"/><circle cx="1105" cy="425" r="1.6"/><circle cx="1120" cy="430" r="1.6"/><circle cx="1142" cy="430" r="1.6"/><circle cx="1120" cy="438" r="1.6"/><circle cx="1139" cy="440" r="1.6"/><circle cx="1122" cy="452" r="1.6"/><circle cx="1137" cy="453" r="1.6"/><circle cx="1106" cy="447" r="1.6"/><circle cx="1145" cy="447" r="1.6"/><circle cx="1118" cy="457" r="1.6"/></g>
<!-- NMCTP crystal -->
<g fill="none" stroke="#c4c4c4" stroke-width="0.8">
<path d="M1305,455 L1280,498 L1280,543 L1305,585 L1330,543 L1330,498 Z M1305,455 L1292,520 L1305,585 M1305,455 L1318,518 L1305,585 M1280,498 L1318,518 L1330,543 M1330,498 L1292,520 L1280,543"/>
</g>
<polygon points="1295,465 1305,458 1318,463 1318,476 1307,482 1295,476" fill="#a8c840" stroke="#708a20" stroke-width="0.5"/>
<polygon points="1305,458 1318,463 1306,469" fill="#c8e060"/>
<polygon points="1293,493 1305,486 1318,491 1317,503 1306,509 1294,502" fill="#8ccbe6" stroke="#5a9ac0" stroke-width="0.5"/>
<polygon points="1293,553 1304,545 1317,550 1316,563 1305,569 1294,562" fill="#7fb4dc" stroke="#5a90c0" stroke-width="0.5"/>
<g fill="#f0e060" stroke="#b0a020" stroke-width="1.2"><circle cx="1298" cy="510" r="3.5"/><circle cx="1322" cy="507" r="3.5"/><circle cx="1293" cy="527" r="3.5"/><circle cx="1313" cy="524" r="3.5"/></g>
<g fill="#fff" stroke="#9a70b0" stroke-width="1"><circle cx="1287" cy="503" r="2.2"/><circle cx="1313" cy="510" r="2"/><circle cx="1289" cy="520" r="2"/><circle cx="1325" cy="525" r="2.2"/></g>
<g stroke="#c03030" stroke-width="0.8"><line x1="1309" y1="532" x2="1300" y2="526"/><line x1="1309" y1="532" x2="1319" y2="528"/><line x1="1309" y1="532" x2="1301" y2="539"/><line x1="1309" y1="532" x2="1318" y2="540"/><line x1="1309" y1="532" x2="1309" y2="522"/><line x1="1309" y1="532" x2="1310" y2="543"/></g>
<circle cx="1309" cy="532" r="3" fill="#8a2a90"/>
<g fill="#e03020"><circle cx="1295" cy="465" r="1.6"/><circle cx="1305" cy="458" r="1.6"/><circle cx="1318" cy="463" r="1.6"/><circle cx="1318" cy="476" r="1.6"/><circle cx="1307" cy="482" r="1.6"/><circle cx="1295" cy="476" r="1.6"/><circle cx="1293" cy="493" r="1.6"/><circle cx="1318" cy="491" r="1.6"/><circle cx="1317" cy="503" r="1.6"/><circle cx="1306" cy="509" r="1.6"/><circle cx="1293" cy="553" r="1.6"/><circle cx="1304" cy="545" r="1.6"/><circle cx="1317" cy="550" r="1.6"/><circle cx="1316" cy="563" r="1.6"/><circle cx="1305" cy="569" r="1.6"/><circle cx="1294" cy="562" r="1.6"/><circle cx="1300" cy="526" r="1.6"/><circle cx="1319" cy="528" r="1.6"/><circle cx="1301" cy="539" r="1.6"/><circle cx="1318" cy="540" r="1.6"/><circle cx="1286" cy="530" r="1.6"/><circle cx="1326" cy="533" r="1.6"/><circle cx="1290" cy="540" r="1.6"/><circle cx="1322" cy="515" r="1.6"/><circle cx="1284" cy="512" r="1.6"/></g>
<!-- e legend -->
<polygon points="1140,543 1150,552 1140,561 1130,552" fill="#9cc4dc" stroke="#7aa0c0" stroke-width="0.5"/>
<polygon points="1183,543 1193,552 1183,561 1173,552" fill="#8a3a96" stroke="#5a1a60" stroke-width="0.5"/>
<polygon points="1220,543 1230,552 1220,561 1210,552" fill="#a8c840" stroke="#708a20" stroke-width="0.5"/>
<g fill="#e03020"><circle cx="1140" cy="543" r="1.6"/><circle cx="1150" cy="552" r="1.6"/><circle cx="1140" cy="561" r="1.6"/><circle cx="1130" cy="552" r="1.6"/><circle cx="1183" cy="543" r="1.6"/><circle cx="1193" cy="552" r="1.6"/><circle cx="1183" cy="561" r="1.6"/><circle cx="1173" cy="552" r="1.6"/><circle cx="1220" cy="543" r="1.6"/><circle cx="1230" cy="552" r="1.6"/><circle cx="1220" cy="561" r="1.6"/><circle cx="1210" cy="552" r="1.6"/></g>
<circle cx="1249" cy="552" r="3.5" fill="#f0e060" stroke="#b0a020" stroke-width="1.2"/>
<circle cx="1270" cy="552" r="2.5" fill="#fff" stroke="#9a70b0" stroke-width="1"/>
<g font-size="4.5" fill="#333" text-anchor="middle" class="b">
<text x="1140" y="579">TiO<tspan font-size="3.5">6</tspan></text><text x="1183" y="579">MnO<tspan font-size="3.5">6</tspan></text><text x="1220" y="579">CeO<tspan font-size="3.5">6</tspan></text><text x="1249" y="579">Na</text><text x="1270" y="579">P</text>
</g>

<!-- ============ PANELS F & G ============ -->
<text x="29" y="689" class="b" font-size="30">f</text>
<text x="456" y="684" class="b" font-size="30">g</text>
<rect x="70" y="707" width="377" height="220" fill="none" stroke="#777" stroke-width="1.5"/>
<line x1="70" y1="781" x2="447" y2="781" stroke="#888" stroke-width="1.5"/>
<line x1="70" y1="854" x2="447" y2="854" stroke="#888" stroke-width="1.5"/>
<rect x="514" y="704" width="385" height="226" fill="none" stroke="#777" stroke-width="1.5"/>
<line x1="514" y1="779" x2="899" y2="779" stroke="#888" stroke-width="1.5"/>
<line x1="514" y1="854" x2="899" y2="854" stroke="#888" stroke-width="1.5"/>

<!-- f structure -->
<g>
<g stroke="#d83a2a" stroke-width="2.5">
<line x1="103" y1="738" x2="110" y2="720"/><line x1="103" y1="738" x2="83" y2="750"/><line x1="103" y1="738" x2="126" y2="752"/>
<line x1="143" y1="778" x2="126" y2="752"/><line x1="143" y1="778" x2="167" y2="763"/><line x1="143" y1="778" x2="123" y2="800"/><line x1="143" y1="778" x2="147" y2="805"/>
<line x1="100" y1="802" x2="83" y2="788"/><line x1="100" y1="802" x2="107" y2="793"/><line x1="100" y1="802" x2="123" y2="800"/><line x1="100" y1="802" x2="97" y2="830"/>
<line x1="168" y1="822" x2="147" y2="805"/><line x1="168" y1="822" x2="163" y2="835"/><line x1="168" y1="822" x2="143" y2="842"/><line x1="168" y1="822" x2="187" y2="852"/>
<line x1="285" y1="758" x2="292" y2="733"/><line x1="285" y1="758" x2="307" y2="762"/><line x1="285" y1="758" x2="297" y2="772"/><line x1="285" y1="758" x2="265" y2="765"/>
<line x1="325" y1="777" x2="345" y2="752"/><line x1="325" y1="777" x2="307" y2="762"/><line x1="325" y1="777" x2="333" y2="800"/><line x1="325" y1="777" x2="297" y2="795"/>
<line x1="227" y1="810" x2="227" y2="795"/><line x1="227" y1="810" x2="203" y2="825"/><line x1="227" y1="810" x2="247" y2="827"/>
<line x1="290" y1="822" x2="265" y2="810"/><line x1="290" y1="822" x2="287" y2="843"/><line x1="290" y1="822" x2="297" y2="795"/>
<line x1="352" y1="800" x2="333" y2="800"/><line x1="352" y1="800" x2="372" y2="787"/><line x1="352" y1="800" x2="367" y2="830"/>
<line x1="417" y1="835" x2="413" y2="813"/><line x1="417" y1="835" x2="440" y2="837"/><line x1="417" y1="835" x2="397" y2="837"/><line x1="417" y1="835" x2="440" y2="847"/>
<line x1="248" y1="783" x2="227" y2="795"/><line x1="248" y1="783" x2="265" y2="765"/><line x1="248" y1="783" x2="265" y2="810"/>
<line x1="440" y1="780" x2="425" y2="775"/>
<line x1="78" y1="852" x2="97" y2="863"/><line x1="78" y1="852" x2="97" y2="830"/>
<line x1="128" y1="853" x2="143" y2="842"/><line x1="128" y1="853" x2="97" y2="863"/>
<line x1="187" y1="852" x2="167" y2="850"/><line x1="187" y1="852" x2="168" y2="880"/><line x1="187" y1="852" x2="203" y2="825"/>
<line x1="203" y1="850" x2="207" y2="860"/><line x1="263" y1="852" x2="247" y2="867"/><line x1="263" y1="852" x2="247" y2="827"/><line x1="263" y1="852" x2="287" y2="843"/>
<line x1="315" y1="853" x2="287" y2="843"/><line x1="315" y1="853" x2="330" y2="863"/>
<line x1="377" y1="853" x2="367" y2="830"/><line x1="377" y1="853" x2="397" y2="848"/><line x1="390" y1="852" x2="397" y2="837"/><line x1="377" y1="853" x2="395" y2="880"/>
<line x1="227" y1="873" x2="207" y2="860"/><line x1="227" y1="873" x2="247" y2="867"/><line x1="227" y1="873" x2="220" y2="897"/>
<line x1="348" y1="880" x2="330" y2="863"/><line x1="348" y1="880" x2="363" y2="870"/><line x1="352" y1="888" x2="330" y2="900"/>
<line x1="165" y1="905" x2="143" y2="908"/><line x1="165" y1="905" x2="168" y2="880"/>
<line x1="415" y1="897" x2="395" y2="880"/><line x1="415" y1="897" x2="435" y2="880"/><line x1="415" y1="897" x2="413" y2="912"/>
</g>
<g stroke="#5cc0c4" stroke-width="2.5"><line x1="143" y1="778" x2="160" y2="795"/><line x1="78" y1="852" x2="90" y2="842"/><line x1="263" y1="852" x2="276" y2="848"/><line x1="325" y1="777" x2="340" y2="790"/></g>
<g fill="url(#gO)">
<circle cx="110" cy="720" r="5.5"/><circle cx="83" cy="750" r="5.5"/><circle cx="126" cy="752" r="5.5"/><circle cx="191" cy="735" r="5.5"/><circle cx="185" cy="770" r="5.5"/><circle cx="167" cy="763" r="5.5"/><circle cx="158" cy="768" r="5.5"/><circle cx="265" cy="765" r="5.5"/><circle cx="292" cy="733" r="5.5"/><circle cx="307" cy="762" r="5.5"/><circle cx="297" cy="772" r="5.5"/><circle cx="345" cy="752" r="5.5"/><circle cx="372" cy="727" r="5.5"/><circle cx="417" cy="765" r="5.5"/><circle cx="425" cy="775" r="5.5"/><circle cx="83" cy="788" r="5.5"/><circle cx="82" cy="800" r="5.5"/><circle cx="107" cy="793" r="5.5"/><circle cx="123" cy="800" r="5.5"/><circle cx="227" cy="795" r="5.5"/><circle cx="265" cy="810" r="5.5"/><circle cx="333" cy="800" r="5.5"/><circle cx="372" cy="787" r="5.5"/><circle cx="147" cy="805" r="5.5"/><circle cx="143" cy="842" r="5.5"/><circle cx="163" cy="835" r="5.5"/><circle cx="203" cy="825" r="5.5"/><circle cx="247" cy="827" r="5.5"/><circle cx="287" cy="843" r="5.5"/><circle cx="293" cy="833" r="5.5"/><circle cx="367" cy="830" r="5.5"/><circle cx="397" cy="837" r="5.5"/><circle cx="413" cy="813" r="5.5"/><circle cx="423" cy="812" r="5.5"/><circle cx="440" cy="837" r="5.5"/><circle cx="440" cy="847" r="5.5"/><circle cx="397" cy="848" r="5.5"/><circle cx="97" cy="863" r="5.5"/><circle cx="100" cy="872" r="5.5"/><circle cx="167" cy="850" r="5.5"/><circle cx="207" cy="860" r="5.5"/><circle cx="213" cy="870" r="5.5"/><circle cx="247" cy="867" r="5.5"/><circle cx="330" cy="863" r="5.5"/><circle cx="353" cy="867" r="5.5"/><circle cx="363" cy="870" r="5.5"/><circle cx="168" cy="880" r="5.5"/><circle cx="220" cy="897" r="5.5"/><circle cx="143" cy="908" r="5.5"/><circle cx="330" cy="900" r="5.5"/><circle cx="395" cy="880" r="5.5"/><circle cx="435" cy="880" r="5.5"/><circle cx="413" cy="912" r="5.5"/><circle cx="97" cy="830" r="5.5"/><circle cx="297" cy="795" r="5.5"/>
</g>
<g fill="url(#gP)"><circle cx="103" cy="738" r="6.5"/><circle cx="285" cy="758" r="6.5"/><circle cx="100" cy="802" r="6.5"/><circle cx="168" cy="822" r="6.5"/><circle cx="227" cy="810" r="6.5"/><circle cx="290" cy="822" r="6.5"/><circle cx="352" cy="800" r="6.5"/><circle cx="417" cy="835" r="6.5"/><circle cx="227" cy="873" r="6.5"/><circle cx="348" cy="880" r="6.5"/><circle cx="352" cy="888" r="6.5"/><circle cx="165" cy="905" r="6.5"/><circle cx="415" cy="897" r="6.5"/></g>
<g fill="url(#gMn)"><circle cx="143" cy="778" r="6.5"/><circle cx="78" cy="852" r="6.5"/><circle cx="203" cy="850" r="6.5"/><circle cx="263" cy="852" r="6.5"/><circle cx="390" cy="852" r="6.5"/></g>
<g fill="url(#gTi)"><circle cx="248" cy="783" r="6.5"/><circle cx="440" cy="780" r="6.5"/><circle cx="128" cy="853" r="6.5"/><circle cx="187" cy="852" r="6.5"/><circle cx="315" cy="853" r="6.5"/><circle cx="377" cy="853" r="6.5"/></g>
<circle cx="325" cy="777" r="6.5" fill="url(#gMn)"/>
</g>
<g fill="url(#gNa)">
<ellipse cx="165" cy="735" rx="20" ry="9" transform="rotate(10 165 735)"/><ellipse cx="228" cy="758" rx="13" ry="12"/><ellipse cx="417" cy="733" rx="14" ry="8" transform="rotate(-15 417 733)"/><ellipse cx="163" cy="802" rx="14" ry="11"/><ellipse cx="103" cy="830" rx="17" ry="14"/><ellipse cx="230" cy="830" rx="17" ry="8" transform="rotate(15 230 830)"/><ellipse cx="290" cy="808" rx="12" ry="10"/><ellipse cx="417" cy="800" rx="13" ry="9"/><ellipse cx="353" cy="830" rx="15" ry="12"/><ellipse cx="288" cy="877" rx="16" ry="11"/><ellipse cx="103" cy="898" rx="14" ry="9" transform="rotate(-10 103 898)"/><ellipse cx="353" cy="902" rx="15" ry="9"/>
</g>
<g fill="url(#gO)"><circle cx="227" cy="753" r="4.5"/><circle cx="412" cy="810" r="4.5"/><circle cx="422" cy="808" r="4.5"/><circle cx="244" cy="827" r="4.5"/></g>
<g fill="none" stroke="#111" stroke-width="1.6" stroke-dasharray="5,3">
<ellipse cx="227" cy="828" rx="26" ry="12" transform="rotate(15 227 828)"/><ellipse cx="293" cy="810" rx="16" ry="18"/><ellipse cx="415" cy="805" rx="23" ry="19"/>
</g>
<text x="255" y="925" class="b" font-size="12" text-anchor="middle" fill="#111">NMTP</text>

<!-- g structure (same framework, scaled into g frame) -->
<g transform="translate(514,-2) scale(1.021,1) translate(-70,0)">
<g stroke="#d83a2a" stroke-width="2.5">
<line x1="103" y1="738" x2="110" y2="720"/><line x1="103" y1="738" x2="83" y2="750"/><line x1="103" y1="738" x2="126" y2="752"/>
<line x1="143" y1="778" x2="126" y2="752"/><line x1="143" y1="778" x2="167" y2="763"/><line x1="143" y1="778" x2="123" y2="800"/><line x1="143" y1="778" x2="147" y2="805"/>
<line x1="100" y1="802" x2="83" y2="788"/><line x1="100" y1="802" x2="107" y2="793"/><line x1="100" y1="802" x2="123" y2="800"/><line x1="100" y1="802" x2="97" y2="830"/>
<line x1="168" y1="822" x2="147" y2="805"/><line x1="168" y1="822" x2="163" y2="835"/><line x1="168" y1="822" x2="143" y2="842"/><line x1="168" y1="822" x2="187" y2="852"/>
<line x1="285" y1="758" x2="292" y2="733"/><line x1="285" y1="758" x2="307" y2="762"/><line x1="285" y1="758" x2="297" y2="772"/><line x1="285" y1="758" x2="265" y2="765"/>
<line x1="325" y1="777" x2="345" y2="752"/><line x1="325" y1="777" x2="307" y2="762"/><line x1="325" y1="777" x2="333" y2="800"/><line x1="325" y1="777" x2="297" y2="795"/>
<line x1="227" y1="810" x2="227" y2="795"/><line x1="227" y1="810" x2="203" y2="825"/><line x1="227" y1="810" x2="247" y2="827"/>
<line x1="290" y1="822" x2="265" y2="810"/><line x1="290" y1="822" x2="287" y2="843"/><line x1="290" y1="822" x2="297" y2="795"/>
<line x1="352" y1="800" x2="333" y2="800"/><line x1="352" y1="800" x2="372" y2="787"/><line x1="352" y1="800" x2="367" y2="830"/>
<line x1="417" y1="835" x2="413" y2="813"/><line x1="417" y1="835" x2="440" y2="837"/><line x1="417" y1="835" x2="397" y2="837"/><line x1="417" y1="835" x2="440" y2="847"/>
<line x1="248" y1="783" x2="227" y2="795"/><line x1="248" y1="783" x2="265" y2="765"/><line x1="248" y1="783" x2="265" y2="810"/>
<line x1="440" y1="780" x2="425" y2="775"/>
<line x1="78" y1="852" x2="97" y2="863"/><line x1="78" y1="852" x2="97" y2="830"/>
<line x1="128" y1="853" x2="143" y2="842"/><line x1="128" y1="853" x2="97" y2="863"/>
<line x1="187" y1="852" x2="167" y2="850"/><line x1="187" y1="852" x2="168" y2="880"/><line x1="187" y1="852" x2="203" y2="825"/>
<line x1="203" y1="850" x2="207" y2="860"/><line x1="263" y1="852" x2="247" y2="867"/><line x1="263" y1="852" x2="247" y2="827"/><line x1="263" y1="852" x2="287" y2="843"/>
<line x1="315" y1="853" x2="287" y2="843"/><line x1="315" y1="853" x2="330" y2="863"/>
<line x1="377" y1="853" x2="367" y2="830"/><line x1="377" y1="853" x2="397" y2="848"/><line x1="390" y1="852" x2="397" y2="837"/><line x1="377" y1="853" x2="395" y2="880"/>
<line x1="227" y1="873" x2="207" y2="860"/><line x1="227" y1="873" x2="247" y2="867"/><line x1="227" y1="873" x2="220" y2="897"/>
<line x1="348" y1="880" x2="330" y2="863"/><line x1="348" y1="880" x2="363" y2="870"/><line x1="352" y1="888" x2="330" y2="900"/>
<line x1="165" y1="905" x2="143" y2="908"/><line x1="165" y1="905" x2="168" y2="880"/>
<line x1="415" y1="897" x2="395" y2="880"/><line x1="415" y1="897" x2="435" y2="880"/><line x1="415" y1="897" x2="413" y2="912"/>
</g>
<g stroke="#5cc0c4" stroke-width="2.5"><line x1="143" y1="778" x2="160" y2="795"/><line x1="78" y1="852" x2="90" y2="842"/><line x1="263" y1="852" x2="276" y2="848"/></g>
<g fill="url(#gO)">
<circle cx="110" cy="720" r="5.5"/><circle cx="83" cy="750" r="5.5"/><circle cx="126" cy="752" r="5.5"/><circle cx="191" cy="735" r="5.5"/><circle cx="185" cy="770" r="5.5"/><circle cx="167" cy="763" r="5.5"/><circle cx="158" cy="768" r="5.5"/><circle cx="265" cy="765" r="5.5"/><circle cx="292" cy="733" r="5.5"/><circle cx="307" cy="762" r="5.5"/><circle cx="297" cy="772" r="5.5"/><circle cx="345" cy="752" r="5.5"/><circle cx="372" cy="727" r="5.5"/><circle cx="417" cy="765" r="5.5"/><circle cx="425" cy="775" r="5.5"/><circle cx="83" cy="788" r="5.5"/><circle cx="82" cy="800" r="5.5"/><circle cx="107" cy="793" r="5.5"/><circle cx="123" cy="800" r="5.5"/><circle cx="227" cy="795" r="5.5"/><circle cx="265" cy="810" r="5.5"/><circle cx="333" cy="800" r="5.5"/><circle cx="372" cy="787" r="5.5"/><circle cx="147" cy="805" r="5.5"/><circle cx="143" cy="842" r="5.5"/><circle cx="163" cy="835" r="5.5"/><circle cx="203" cy="825" r="5.5"/><circle cx="247" cy="827" r="5.5"/><circle cx="287" cy="843" r="5.5"/><circle cx="293" cy="833" r="5.5"/><circle cx="367" cy="830" r="5.5"/><circle cx="397" cy="837" r="5.5"/><circle cx="413" cy="813" r="5.5"/><circle cx="423" cy="812" r="5.5"/><circle cx="440" cy="837" r="5.5"/><circle cx="440" cy="847" r="5.5"/><circle cx="397" cy="848" r="5.5"/><circle cx="97" cy="863" r="5.5"/><circle cx="100" cy="872" r="5.5"/><circle cx="167" cy="850" r="5.5"/><circle cx="207" cy="860" r="5.5"/><circle cx="213" cy="870" r="5.5"/><circle cx="247" cy="867" r="5.5"/><circle cx="330" cy="863" r="5.5"/><circle cx="353" cy="867" r="5.5"/><circle cx="363" cy="870" r="5.5"/><circle cx="168" cy="880" r="5.5"/><circle cx="220" cy="897" r="5.5"/><circle cx="143" cy="908" r="5.5"/><circle cx="330" cy="900" r="5.5"/><circle cx="395" cy="880" r="5.5"/><circle cx="435" cy="880" r="5.5"/><circle cx="413" cy="912" r="5.5"/><circle cx="97" cy="830" r="5.5"/><circle cx="297" cy="795" r="5.5"/>
</g>
<g fill="url(#gP)"><circle cx="103" cy="738" r="6.5"/><circle cx="285" cy="758" r="6.5"/><circle cx="100" cy="802" r="6.5"/><circle cx="168" cy="822" r="6.5"/><circle cx="227" cy="810" r="6.5"/><circle cx="290" cy="822" r="6.5"/><circle cx="352" cy="800" r="6.5"/><circle cx="417" cy="835" r="6.5"/><circle cx="227" cy="873" r="6.5"/><circle cx="348" cy="880" r="6.5"/><circle cx="352" cy="888" r="6.5"/><circle cx="165" cy="905" r="6.5"/><circle cx="415" cy="897" r="6.5"/></g>
<g fill="url(#gMn)"><circle cx="143" cy="778" r="6.5"/><circle cx="78" cy="852" r="6.5"/><circle cx="203" cy="850" r="6.5"/><circle cx="263" cy="852" r="6.5"/><circle cx="390" cy="852" r="6.5"/></g>
<g fill="url(#gTi)"><circle cx="248" cy="783" r="6.5"/><circle cx="440" cy="780" r="6.5"/><circle cx="128" cy="853" r="6.5"/><circle cx="187" cy="852" r="6.5"/><circle cx="315" cy="853" r="6.5"/><circle cx="377" cy="853" r="6.5"/></g>
<circle cx="325" cy="777" r="7" fill="url(#gCe)"/>
</g>
<g fill="url(#gNa)">
<ellipse cx="613" cy="733" rx="19" ry="9" transform="rotate(15 613 733)"/><ellipse cx="672" cy="757" rx="16" ry="13"/><ellipse cx="863" cy="733" rx="19" ry="10" transform="rotate(-15 863 733)"/><ellipse cx="612" cy="800" rx="14" ry="12"/><ellipse cx="550" cy="832" rx="17" ry="12"/><ellipse cx="683" cy="832" rx="22" ry="10" transform="rotate(20 683 832)"/><ellipse cx="752" cy="832" rx="12" ry="38" transform="rotate(-25 752 832)"/><ellipse cx="803" cy="827" rx="17" ry="18"/><ellipse cx="880" cy="797" rx="22" ry="11" transform="rotate(-20 880 797)"/><ellipse cx="735" cy="880" rx="19" ry="12"/><ellipse cx="553" cy="887" rx="21" ry="7" transform="rotate(-35 553 887)"/><ellipse cx="803" cy="903" rx="18" ry="11"/>
</g>
<g fill="url(#gO)"><circle cx="672" cy="752" r="4.5"/><circle cx="870" cy="808" r="4.5"/><circle cx="882" cy="806" r="4.5"/></g>
<g fill="none" stroke="#111" stroke-width="1.6" stroke-dasharray="5,3">
<ellipse cx="685" cy="832" rx="30" ry="15" transform="rotate(20 685 832)"/><ellipse cx="752" cy="830" rx="20" ry="45" transform="rotate(-25 752 830)"/><ellipse cx="878" cy="797" rx="30" ry="17" transform="rotate(-25 878 797)"/>
</g>
<text x="715" y="926" class="b" font-size="12" text-anchor="middle" fill="#111">NMCTP</text>
<circle cx="927" cy="750" r="7" fill="url(#gNa)"/>
<circle cx="927" cy="778" r="7" fill="url(#gO)"/>
<circle cx="927" cy="802" r="7" fill="url(#gP)"/>
<circle cx="927" cy="827" r="7" fill="url(#gMn)"/>
<circle cx="927" cy="850" r="7" fill="url(#gTi)"/>
<circle cx="927" cy="872" r="7" fill="url(#gCe)"/>
<g class="b" font-size="12" fill="#222">
<text x="939" y="754">Na</text><text x="941" y="782">O</text><text x="942" y="806">P</text><text x="938" y="831">Mn</text><text x="941" y="854">Ti</text><text x="939" y="876">Ce</text>
</g>

<!-- ============ PANEL H ============ -->
<text x="975" y="685" class="b" font-size="30">h</text>
<rect x="1034" y="677" width="363" height="274" fill="none" stroke="#333" stroke-width="1.6"/>
<g stroke="#333" stroke-width="1.2">
<line x1="1030" y1="704" x2="1034" y2="704"/><line x1="1030" y1="759" x2="1034" y2="759"/><line x1="1030" y1="813" x2="1034" y2="813"/><line x1="1030" y1="868" x2="1034" y2="868"/><line x1="1030" y1="923" x2="1034" y2="923"/>
<line x1="1031" y1="731" x2="1034" y2="731"/><line x1="1031" y1="786" x2="1034" y2="786"/><line x1="1031" y1="841" x2="1034" y2="841"/><line x1="1031" y1="896" x2="1034" y2="896"/>
<line x1="1061" y1="951" x2="1061" y2="955"/><line x1="1190" y1="951" x2="1190" y2="955"/><line x1="1318" y1="951" x2="1318" y2="955"/>
<line x1="1125" y1="951" x2="1125" y2="954"/><line x1="1254" y1="951" x2="1254" y2="954"/><line x1="1383" y1="951" x2="1383" y2="954"/>
</g>
<g class="b" font-size="10" text-anchor="end" fill="#333">
<text x="1026" y="708">-11</text><text x="1026" y="763">-12</text><text x="1026" y="817">-13</text><text x="1026" y="872">-14</text><text x="1026" y="927">-15</text>
</g>
<g class="b" font-size="10" text-anchor="middle" fill="#333">
<text x="1061" y="967">1</text><text x="1190" y="967">2</text><text x="1318" y="967">3</text>
</g>
<text x="1215" y="991" class="b" font-size="11" text-anchor="middle" fill="#222">1000/T (K<tspan font-size="7" dy="-4">-1</tspan><tspan dy="4">)</tspan></text>
<text transform="translate(1006,813) rotate(-90)" class="b" font-size="11" text-anchor="middle" fill="#222">lnD (cm<tspan font-size="7" dy="-4">2</tspan><tspan dy="4"> s</tspan><tspan font-size="7" dy="-4">-1</tspan><tspan dy="4">)</tspan></text>
<line x1="1075" y1="692" x2="1362" y2="849" stroke="#f08a30" stroke-width="1.8"/>
<line x1="1075" y1="699" x2="1362" y2="910" stroke="#4aa6ec" stroke-width="1.8"/>
<g fill="#f08a30"><circle cx="1075" cy="688" r="3.2"/><circle cx="1104" cy="699" r="3.2"/><circle cx="1147" cy="732" r="3.2"/><circle cx="1219" cy="785" r="3.2"/><circle cx="1362" cy="841" r="3.2"/><circle cx="1257" cy="726" r="3.2"/></g>
<g fill="#3e9ff0"><circle cx="1075" cy="706" r="3.2"/><circle cx="1104" cy="712" r="3.2"/><circle cx="1147" cy="746" r="3.2"/><circle cx="1219" cy="820" r="3.2"/><circle cx="1362" cy="907" r="3.2"/><circle cx="1091" cy="814" r="3.2"/></g>
<g class="b" font-size="11" fill="#222">
<text x="1274" y="730">NMCTP</text>
<text x="1274" y="746">E<tspan font-size="7" dy="3">a</tspan><tspan dy="-3">=0.11eV</tspan></text>
<text x="1107" y="818">NMTP</text>
<text x="1107" y="834">E<tspan font-size="7" dy="3">a</tspan><tspan dy="-3">=0.15eV</tspan></text>
<text x="1075" y="901">ln(D)=ln(D<tspan font-size="7" dy="3">0</tspan><tspan dy="-3">)-E</tspan><tspan font-size="7" dy="3">a</tspan><tspan dy="-3">/RT</tspan></text>
</g>
<path d="M1406,983 L1402,987 L1406,991 Z" fill="#3e9ff0"/>
</svg>
</body></html>
